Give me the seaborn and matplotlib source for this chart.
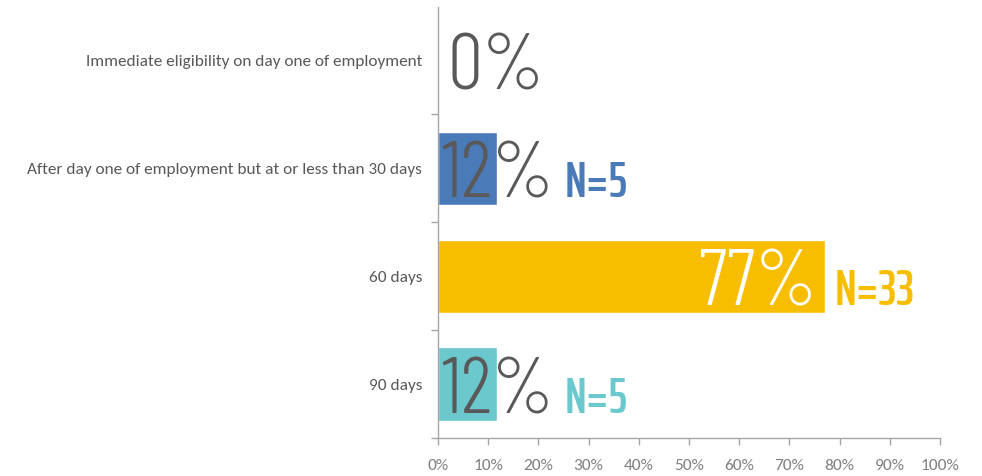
import matplotlib
matplotlib.use("Agg")
import matplotlib.pyplot as plt
import seaborn as sns
import pandas as pd
from matplotlib.ticker import FixedLocator, FuncFormatter

categories = [
    "Immediate eligibility on day one of employment",
    "After day one of employment but at or less than 30 days",
    "60 days",
    "90 days",
]
values = [0, 11.8, 77, 11.8]
pct_labels = ["0%", "12%", "77%", "12%"]
n_labels = ["", "N=5", "N=33", "N=5"]
colors = ["#4A7AB8", "#4A7AB8", "#F7BE00", "#6BC8CC"]
pct_colors = ["#595959", "#595959", "#FFFFFF", "#595959"]
xticks = list(range(0, 101, 10))

sns.set_theme(style="white")
plt.rcParams["font.family"] = ["Carlito", "DejaVu Sans"]

df = pd.DataFrame({"cat": categories, "val": values})

fig = plt.figure(figsize=(9.82, 4.76), dpi=100)
ax = fig.add_axes([438 / 982, 38 / 476, 502 / 982, (438 - 6.5) / 476])

sns.barplot(data=df, y="cat", x="val", hue="cat", palette=colors,
            orient="h", width=0.68, legend=False, ax=ax, saturation=1)

ax.set_xlim(0, 100)
ax.set_ylim(3.5, -0.5)
ax.set_xlabel("")
ax.set_ylabel("")

ax.xaxis.set_major_locator(FixedLocator(xticks))
ax.xaxis.set_major_formatter(FuncFormatter(lambda v, p: f"{int(v)}%"))
ax.tick_params(axis="x", length=5, width=1, color="#A6A6A6", direction="out",
               labelsize=12.5, labelcolor="#808080", pad=10, bottom=True)
ax.tick_params(axis="y", which="major", length=0, labelsize=12.4,
               labelcolor="#595959", pad=11.5)
ax.set_yticks(range(len(categories)))
ax.set_yticklabels(categories)
ax.yaxis.set_minor_locator(FixedLocator([0.5, 1.5, 2.5, 3.5]))
ax.tick_params(axis="y", which="minor", length=5, width=1, color="#A6A6A6",
               direction="out", left=True)

for s in ["top", "right"]:
    ax.spines[s].set_visible(False)
for s in ["left", "bottom"]:
    ax.spines[s].set_color("#A6A6A6")
    ax.spines[s].set_linewidth(1)

pct_font = ["Barlow Condensed", "DejaVu Sans"]
n_font = ["Saira ExtraCondensed", "Barlow Condensed", "DejaVu Sans"]
for i, (v, pl, nl, pc, c) in enumerate(zip(values, pct_labels, n_labels, pct_colors, colors)):
    if v > 50:
        ax.text(v - 1.5, i + 0.27, pl, ha="right", va="baseline", fontsize=57,
                color=pc, family=pct_font, fontweight=300)
    else:
        ax.text(max(v, 11.6), i + 0.27, pl, ha="center", va="baseline", fontsize=57,
                color=pc, family=pct_font, fontweight=300)
    if nl:
        ax.text(max(v, 23.3) + 2.0, i + 0.27, nl, ha="left", va="baseline",
                fontsize=36, color=c, family=n_font, fontweight=600)

fig.savefig("out.png", dpi=100)
